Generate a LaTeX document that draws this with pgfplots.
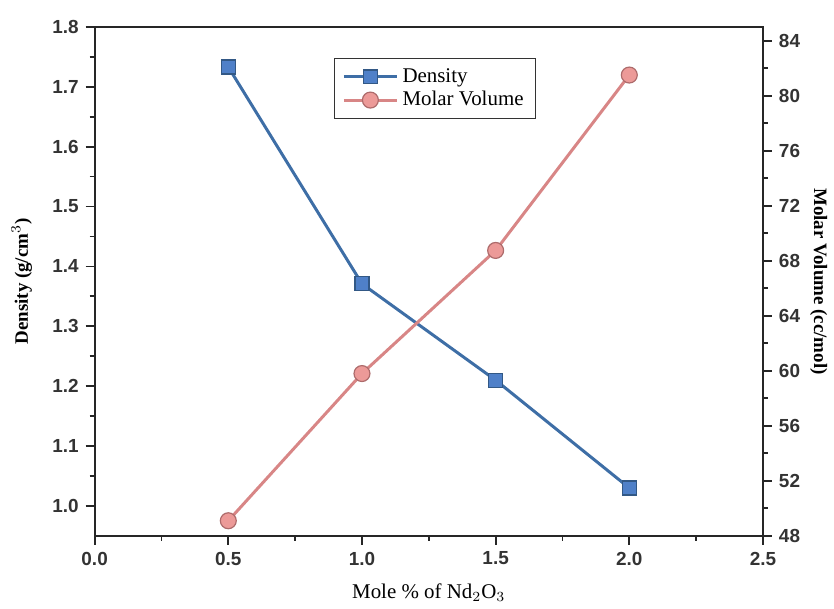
\documentclass[border=0pt]{standalone}
\usepackage{fontspec}
\setmainfont{Liberation Serif}
\setsansfont{Liberation Sans}
\usepackage{pgfplots}
\pgfplotsset{compat=1.18}
\definecolor{bl}{HTML}{3E6EA6}
\definecolor{blfill}{HTML}{4F80C8}
\definecolor{rd}{HTML}{D88686}
\definecolor{rdfill}{HTML}{EC9A98}
\begin{document}
\begin{tikzpicture}
\pgfplotsset{
  every axis/.append style={
    scale only axis, width=335.5pt, height=255.5pt,
    at={(0pt,0pt)}, anchor=south west,
    xmin=0, xmax=2.5,
    axis line style={line width=1pt, black!85},
    every tick/.style={line width=0.9pt, black!85},
    major tick length=4.5pt, minor tick length=2.5pt, tick align=outside,
    tick label style={font=\sffamily\bfseries\fontsize{9.5}{11}\selectfont, text=black!80},
    /pgf/number format/assume math mode=true,
    label style={font=\bfseries\fontsize{9.5}{11}\selectfont},
  },
  dens/.style={draw=bl, line width=1.5pt, mark=square*, mark size=3.5pt, mark options={fill=blfill, draw=bl!80!black, line width=0.6pt}},
  molv/.style={draw=rd, line width=1.5pt, mark=*, mark size=4pt, mark options={fill=rdfill, draw=rd!80!black, line width=0.6pt}},
}
\begin{axis}[
  ymin=0.95, ymax=1.8,
  tick pos=left,
  xtick={0,0.5,...,2.5}, minor x tick num=1,
  ytick={1.0,1.1,...,1.8}, minor y tick num=1,
  xticklabel style={/pgf/number format/.cd, fixed, fixed zerofill, precision=1},
  yticklabel style={/pgf/number format/.cd, fixed, fixed zerofill, precision=1},
  xlabel={\mdseries Mole \% of Nd$_2$O$_3$},
  ylabel={Density (g/cm$^3$)},
  xlabel style={at={(axis description cs:0.5,-0.1115)}, anchor=center, font=\fontsize{10.5}{12}\selectfont},
  ylabel style={at={(axis description cs:-0.109,0.5)}, anchor=center},
]
\addplot[dens] coordinates {(0.5,1.733) (1.0,1.371) (1.5,1.210) (2.0,1.030)};
\end{axis}
\begin{axis}[
  ymin=48, ymax=85,
  axis x line=none, axis y line*=right,
  ytick={48,52,...,84}, minor y tick num=1,
  ylabel={Molar Volume (cc/mol)},
  ylabel style={at={(axis description cs:1.0835,0.5)}, anchor=center, rotate=180},
  legend style={at={(0.3577,0.939)}, anchor=north west, draw=black!80, line width=0.6pt,
    font=\fontsize{10.5}{12}\selectfont, inner xsep=4pt, inner ysep=3pt, row sep=-1pt},
  legend cell align=left,
  legend image code/.code={\draw[mark repeat=2, mark phase=2, #1] plot coordinates {(0cm,0cm) (0.47cm,0cm) (0.94cm,0cm)};},
]
\addlegendimage{dens}
\addlegendentry{Density}
\addplot[molv] coordinates {(0.5,49.1) (1.0,59.8) (1.5,68.75) (2.0,81.5)};
\addlegendentry{Molar Volume}
\end{axis}
\path[use as bounding box] (-47.5pt,-35.5pt) rectangle (369.5pt,269pt);
\end{tikzpicture}
\end{document}
